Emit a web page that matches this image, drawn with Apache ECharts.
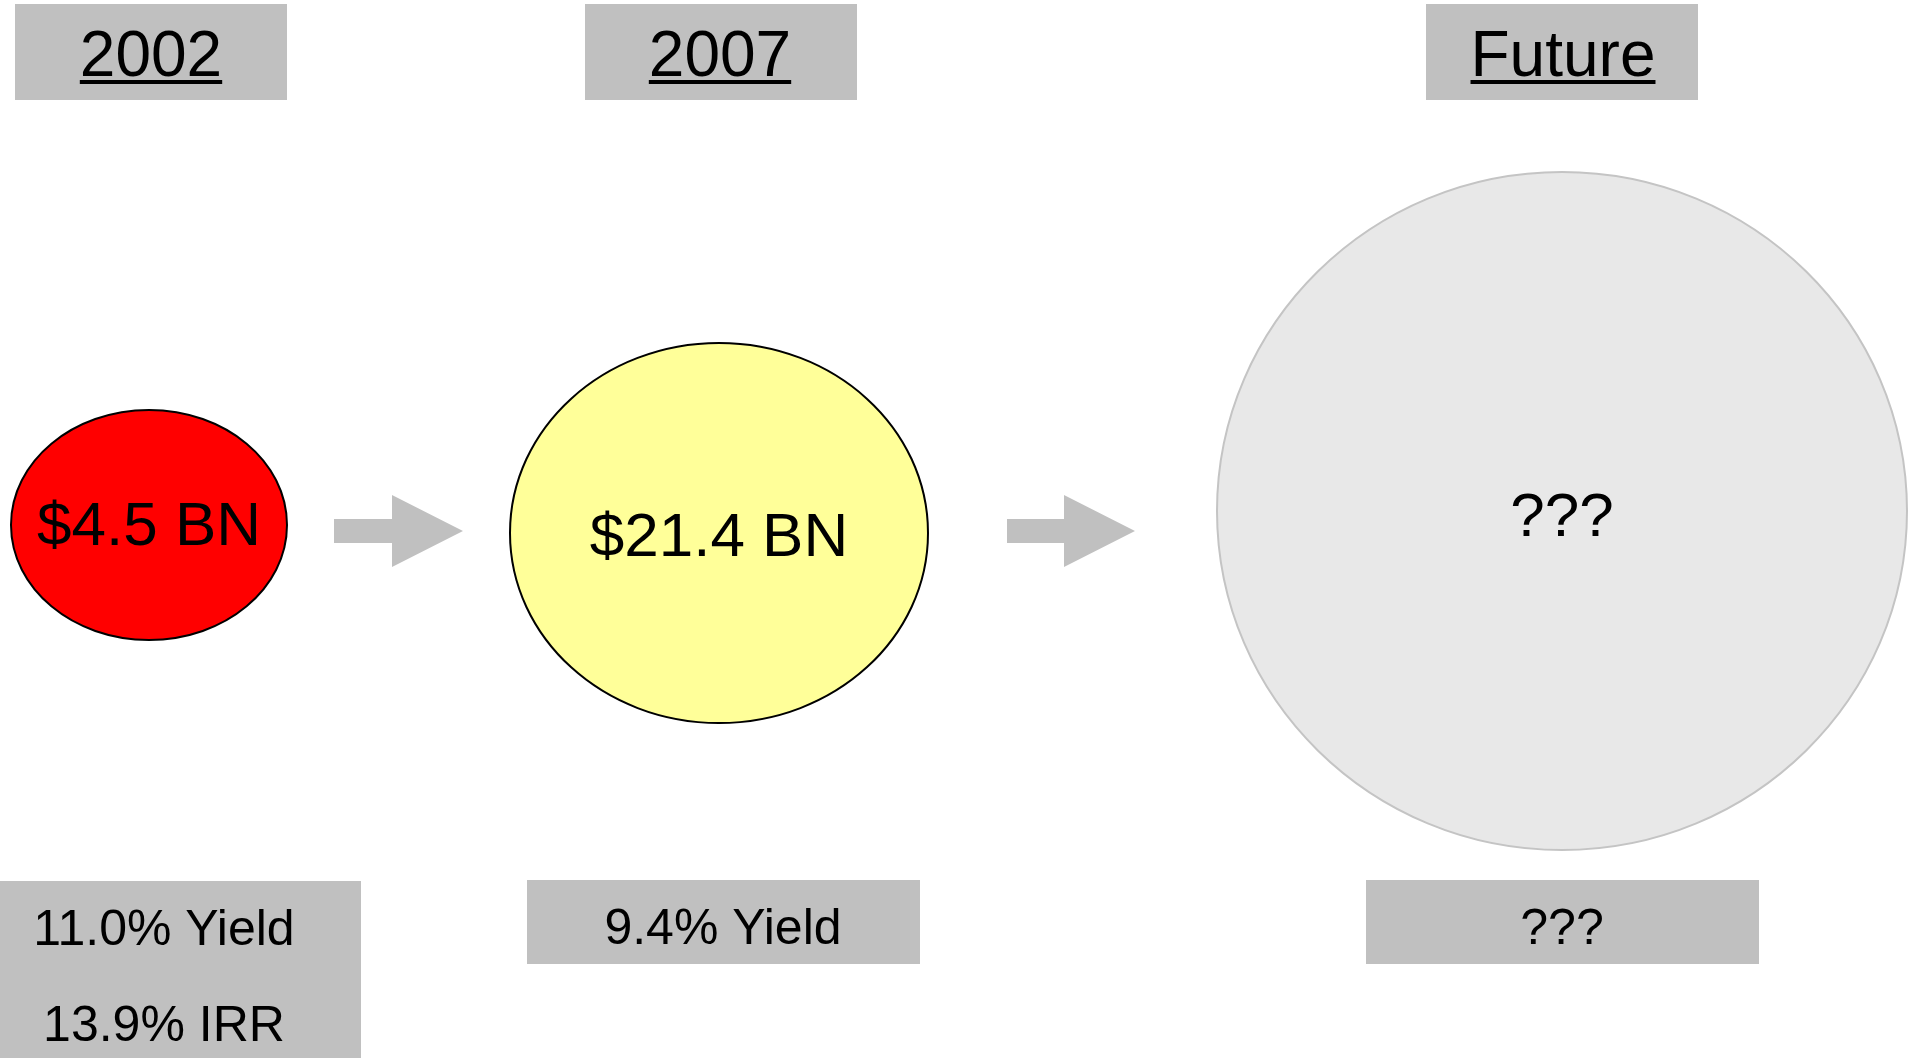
<!DOCTYPE html>
<html>
<head>
<meta charset="utf-8">
<title>Growth</title>
<script src="https://cdn.jsdelivr.net/npm/echarts@6/dist/echarts.min.js"></script>
<style>
html, body { margin: 0; padding: 0; background: #fff; }
#main { width: 1914px; height: 1058px; }
</style>
</head>
<body>
<div id="main"></div>
<script>
// data
const stages = ['2002', '2007', 'Future']
const amounts = ['$4.5 BN', '$21.4 BN', '???']
const metrics = [['11.0% Yield', '13.9% IRR'], ['9.4% Yield'], ['???']]

// layout (axis units are page pixels)
const centers = [[149, 525], [719, 533], [1562, 511]]
const radii = [[138, 115], [209, 190], [345, 339]]
const labelY = [528, 539, 519]
const fills = ['#ff0000', '#ffff99', '#e8e8e8']
const strokes = ['#000000', '#000000', '#c4c4c4']
const headBoxes = [[15, 4, 272, 96], [585, 4, 272, 96], [1426, 4, 272, 96]]
const headTextX = [151, 720, 1563]
const footBoxes = [[0, 881, 361, 177], [527, 880, 393, 84], [1366, 880, 393, 84]]
const footTextX = [164, 723, 1562]
const footTextY = [[931, 1027], [930], [930]]
// arrow: x start, head base x, tip x, centre y
const arrows = [[334, 392, 463, 531], [1007, 1064, 1135, 531]]

const FONT = '"Liberation Sans", Arial, sans-serif'
const ctx = document.createElement('canvas').getContext('2d')
ctx.font = '64px ' + FONT

function renderStage(params, api) {
  const i = api.value(0)
  const px = (x, y) => api.coord([x, y])
  const children = []

  // bubble
  const c = px(centers[i][0], centers[i][1])
  const r = api.size([radii[i][0], radii[i][1]])
  children.push({
    type: 'ellipse',
    shape: { cx: c[0], cy: c[1], rx: r[0], ry: r[1] },
    style: { fill: fills[i], stroke: strokes[i], lineWidth: 2 }
  })
  const lp = px(centers[i][0], labelY[i])
  children.push({
    type: 'text',
    style: {
      text: amounts[i], x: lp[0], y: lp[1],
      align: 'center', verticalAlign: 'middle',
      font: '62px ' + FONT, fill: '#000'
    }
  })

  // arrow to next stage
  if (arrows[i]) {
    const a = arrows[i]
    const pts = [
      [a[0], a[3] - 12], [a[1], a[3] - 12], [a[1], a[3] - 36], [a[2], a[3]],
      [a[1], a[3] + 36], [a[1], a[3] + 12], [a[0], a[3] + 12]
    ].map((p) => px(p[0], p[1]))
    children.push({ type: 'polygon', shape: { points: pts }, style: { fill: '#c0c0c0' } })
  }

  // header box + underlined year
  const hb = headBoxes[i]
  const h0 = px(hb[0], hb[1])
  const hs = api.size([hb[2], hb[3]])
  children.push({ type: 'rect', shape: { x: h0[0], y: h0[1], width: hs[0], height: hs[1] }, style: { fill: '#c0c0c0' } })
  const hc = px(headTextX[i], 58)
  children.push({
    type: 'text',
    style: {
      text: stages[i], x: hc[0], y: hc[1],
      align: 'center', verticalAlign: 'middle',
      font: '64px ' + FONT, fill: '#000'
    }
  })
  const w = ctx.measureText(stages[i]).width
  const ul = px(headTextX[i], 80)
  children.push({ type: 'rect', shape: { x: ul[0] - w / 2, y: ul[1], width: w, height: 4 }, style: { fill: '#000' } })

  // footer box + metrics
  const fb = footBoxes[i]
  const f0 = px(fb[0], fb[1])
  const fs = api.size([fb[2], fb[3]])
  children.push({ type: 'rect', shape: { x: f0[0], y: f0[1], width: fs[0], height: fs[1] }, style: { fill: '#c0c0c0' } })
  metrics[i].forEach((m, k) => {
    const p = px(footTextX[i], footTextY[i][k])
    children.push({
      type: 'text',
      style: {
        text: m, x: p[0], y: p[1],
        align: 'center', verticalAlign: 'middle',
        font: '50px ' + FONT, fill: '#000'
      }
    })
  })

  return { type: 'group', children: children }
}

const chart = echarts.init(document.getElementById('main'))
chart.setOption({
  animation: false,
  grid: { left: 0, right: 0, top: 0, bottom: 0 },
  xAxis: { type: 'value', min: 0, max: 1914, show: false },
  yAxis: { type: 'value', min: 0, max: 1058, inverse: true, show: false },
  series: [
    {
      type: 'custom',
      renderItem: renderStage,
      data: stages.map((s, i) => [i]),
      encode: { x: 0 },
      silent: true,
      clip: false
    }
  ]
})
</script>
</body>
</html>
